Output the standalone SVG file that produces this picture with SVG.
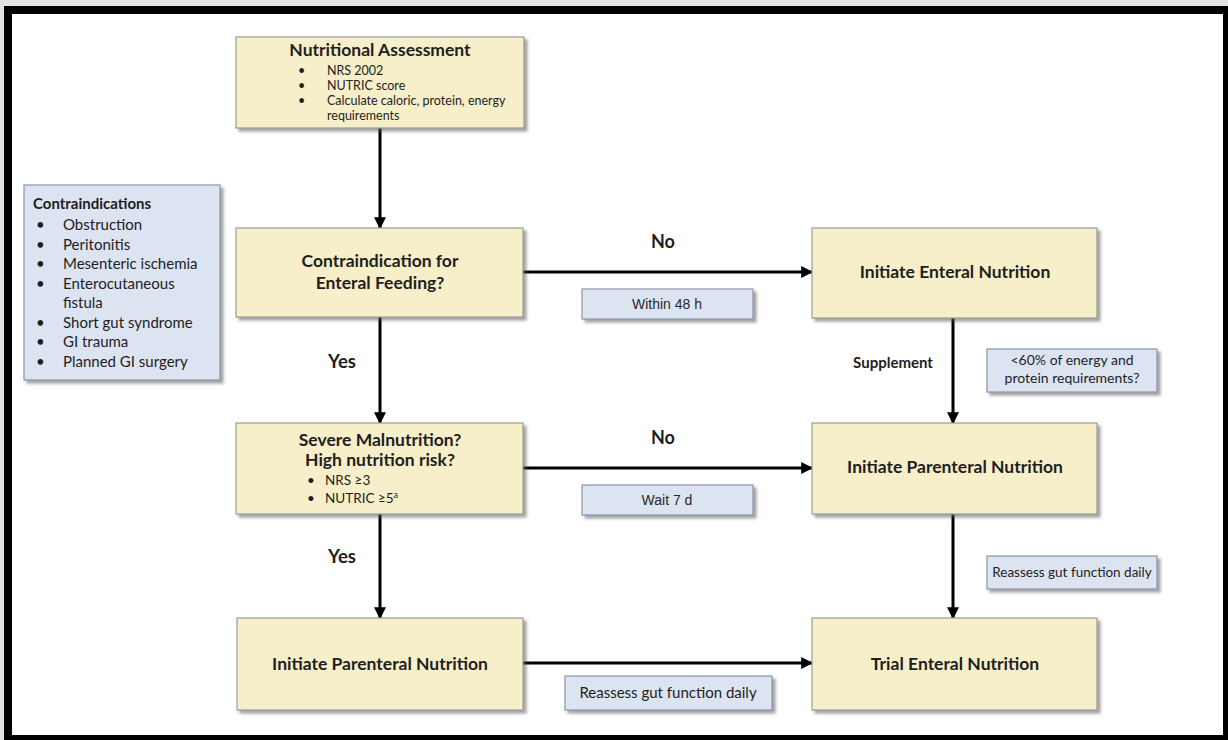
<svg xmlns="http://www.w3.org/2000/svg" width="1228" height="740" viewBox="0 0 1228 740">
<defs>
<filter id="sh" x="-5%" y="-5%" width="115%" height="125%">
<feDropShadow dx="3" dy="3" stdDeviation="1.8" flood-color="#555" flood-opacity="0.55"/>
</filter>
<marker id="ah" viewBox="0 0 10 10" refX="9" refY="5" markerWidth="4" markerHeight="4" orient="auto" markerUnits="strokeWidth">
<path d="M0,0 L10,5 L0,10 z" fill="#000"/>
</marker>
</defs>
<style>
.box{fill:#F7EFC9;stroke:#9a9a9a;stroke-width:1.2;filter:url(#sh)}
.lbl{fill:#DCE4F2;stroke:#8b95a5;stroke-width:1.2;filter:url(#sh)}
.t{font-family:Lato,"Open Sans",sans-serif;fill:#1e1e1e}
.b{font-weight:bold}
.h{font-size:17.5px;font-weight:bold}
.s{font-size:12.5px}
.m{font-size:14px}
.l{font-size:15px}
.a{font-family:"Liberation Sans",Arial,sans-serif;font-size:14px;fill:#2a2a2a}
.c{stroke:#000;stroke-width:3;fill:none;marker-end:url(#ah)}
</style>
<rect x="0" y="0" width="1228" height="740" fill="#e2e2e2"/>
<rect x="8" y="10" width="1219" height="729" fill="#fff" stroke="#000" stroke-width="8"/>

<g id="connectors">
<line class="c" x1="380" y1="128" x2="380" y2="228"/>
<line class="c" x1="523" y1="272" x2="812" y2="272"/>
<line class="c" x1="380" y1="317" x2="380" y2="423"/>
<line class="c" x1="953" y1="318" x2="953" y2="423"/>
<line class="c" x1="523" y1="468" x2="812" y2="468"/>
<line class="c" x1="380" y1="514" x2="380" y2="618"/>
<line class="c" x1="953" y1="514" x2="953" y2="618"/>
<line class="c" x1="523" y1="663" x2="812" y2="663"/>
<text class="t b" x="663" y="248" font-size="18" text-anchor="middle">No</text>
<text class="t b" x="663" y="444" font-size="18" text-anchor="middle">No</text>
<text class="t b" x="342" y="368" font-size="18.5" text-anchor="middle">Yes</text>
<text class="t b" x="342" y="563" font-size="18.5" text-anchor="middle">Yes</text>
<text class="t b" x="893" y="368" font-size="15" text-anchor="middle">Supplement</text>
</g>

<g id="assess">
<rect class="box" x="236" y="37" width="288" height="91"/>
<text class="t h" x="380" y="56" text-anchor="middle">Nutritional Assessment</text>
<g class="t s">
<text x="298" y="75">•</text><text x="327" y="75">NRS 2002</text>
<text x="298" y="90">•</text><text x="327" y="90">NUTRIC score</text>
<text x="298" y="105">•</text><text x="327" y="105">Calculate caloric, protein, energy</text>
<text x="327" y="120">requirements</text>
</g>
</g>

<g id="contra-list">
<rect class="lbl" x="24" y="185" width="196" height="195"/>
<text class="t b" x="33" y="209" font-size="15">Contraindications</text>
<g class="t l">
<text x="36" y="230">•</text><text x="63" y="230">Obstruction</text>
<text x="36" y="249.5">•</text><text x="63" y="249.5">Peritonitis</text>
<text x="36" y="269">•</text><text x="63" y="269">Mesenteric ischemia</text>
<text x="36" y="288.5">•</text><text x="63" y="288.5">Enterocutaneous</text>
<text x="63" y="308">fistula</text>
<text x="36" y="327.5">•</text><text x="63" y="327.5">Short gut syndrome</text>
<text x="36" y="347">•</text><text x="63" y="347">GI trauma</text>
<text x="36" y="366.5">•</text><text x="63" y="366.5">Planned GI surgery</text>
</g>
</g>

<g id="contra">
<rect class="box" x="236" y="228" width="287" height="89"/>
<text class="t h" x="380" y="267" text-anchor="middle">Contraindication for</text>
<text class="t h" x="380" y="289" text-anchor="middle">Enteral Feeding?</text>
</g>

<g id="en">
<rect class="box" x="812" y="228" width="285" height="90"/>
<text class="t h" x="955" y="278" text-anchor="middle">Initiate Enteral Nutrition</text>
</g>

<g id="within48">
<rect class="lbl" x="582" y="289" width="171" height="30"/>
<text class="a" x="667" y="309" text-anchor="middle">Within 48 h</text>
</g>

<g id="lt60">
<rect class="lbl" x="987" y="349" width="170" height="43"/>
<text class="t m" x="1072" y="365" text-anchor="middle">&lt;60% of energy and</text>
<text class="t m" x="1072" y="383" text-anchor="middle">protein requirements?</text>
</g>

<g id="severe">
<rect class="box" x="236" y="423" width="287" height="91"/>
<text class="t h" x="380" y="446" text-anchor="middle">Severe Malnutrition?</text>
<text class="t h" x="380" y="466" text-anchor="middle">High nutrition risk?</text>
<g class="t" font-size="13.5">
<text x="307" y="485">•</text><text x="325" y="485">NRS ≥3</text>
<text x="307" y="503">•</text><text x="325" y="503">NUTRIC ≥5<tspan font-size="9" dy="-5">a</tspan></text>
</g>
</g>

<g id="pn-right">
<rect class="box" x="812" y="423" width="285" height="91"/>
<text class="t h" x="955" y="473" text-anchor="middle">Initiate Parenteral Nutrition</text>
</g>

<g id="wait7">
<rect class="lbl" x="582" y="485" width="171" height="30"/>
<text class="a" x="667" y="505" text-anchor="middle">Wait 7 d</text>
</g>

<g id="reassess-right">
<rect class="lbl" x="987" y="556" width="170" height="33"/>
<text class="t" font-size="13.5" x="1072" y="577" text-anchor="middle">Reassess gut function daily</text>
</g>

<g id="pn-left">
<rect class="box" x="237" y="618" width="286" height="92"/>
<text class="t h" x="380" y="670" text-anchor="middle">Initiate Parenteral Nutrition</text>
</g>

<g id="trial">
<rect class="box" x="812" y="618" width="285" height="92"/>
<text class="t h" x="955" y="670" text-anchor="middle">Trial Enteral Nutrition</text>
</g>

<g id="reassess-bottom">
<rect class="lbl" x="565" y="676" width="207" height="34"/>
<text class="t l" x="668" y="698" text-anchor="middle">Reassess gut function daily</text>
</g>
</svg>
